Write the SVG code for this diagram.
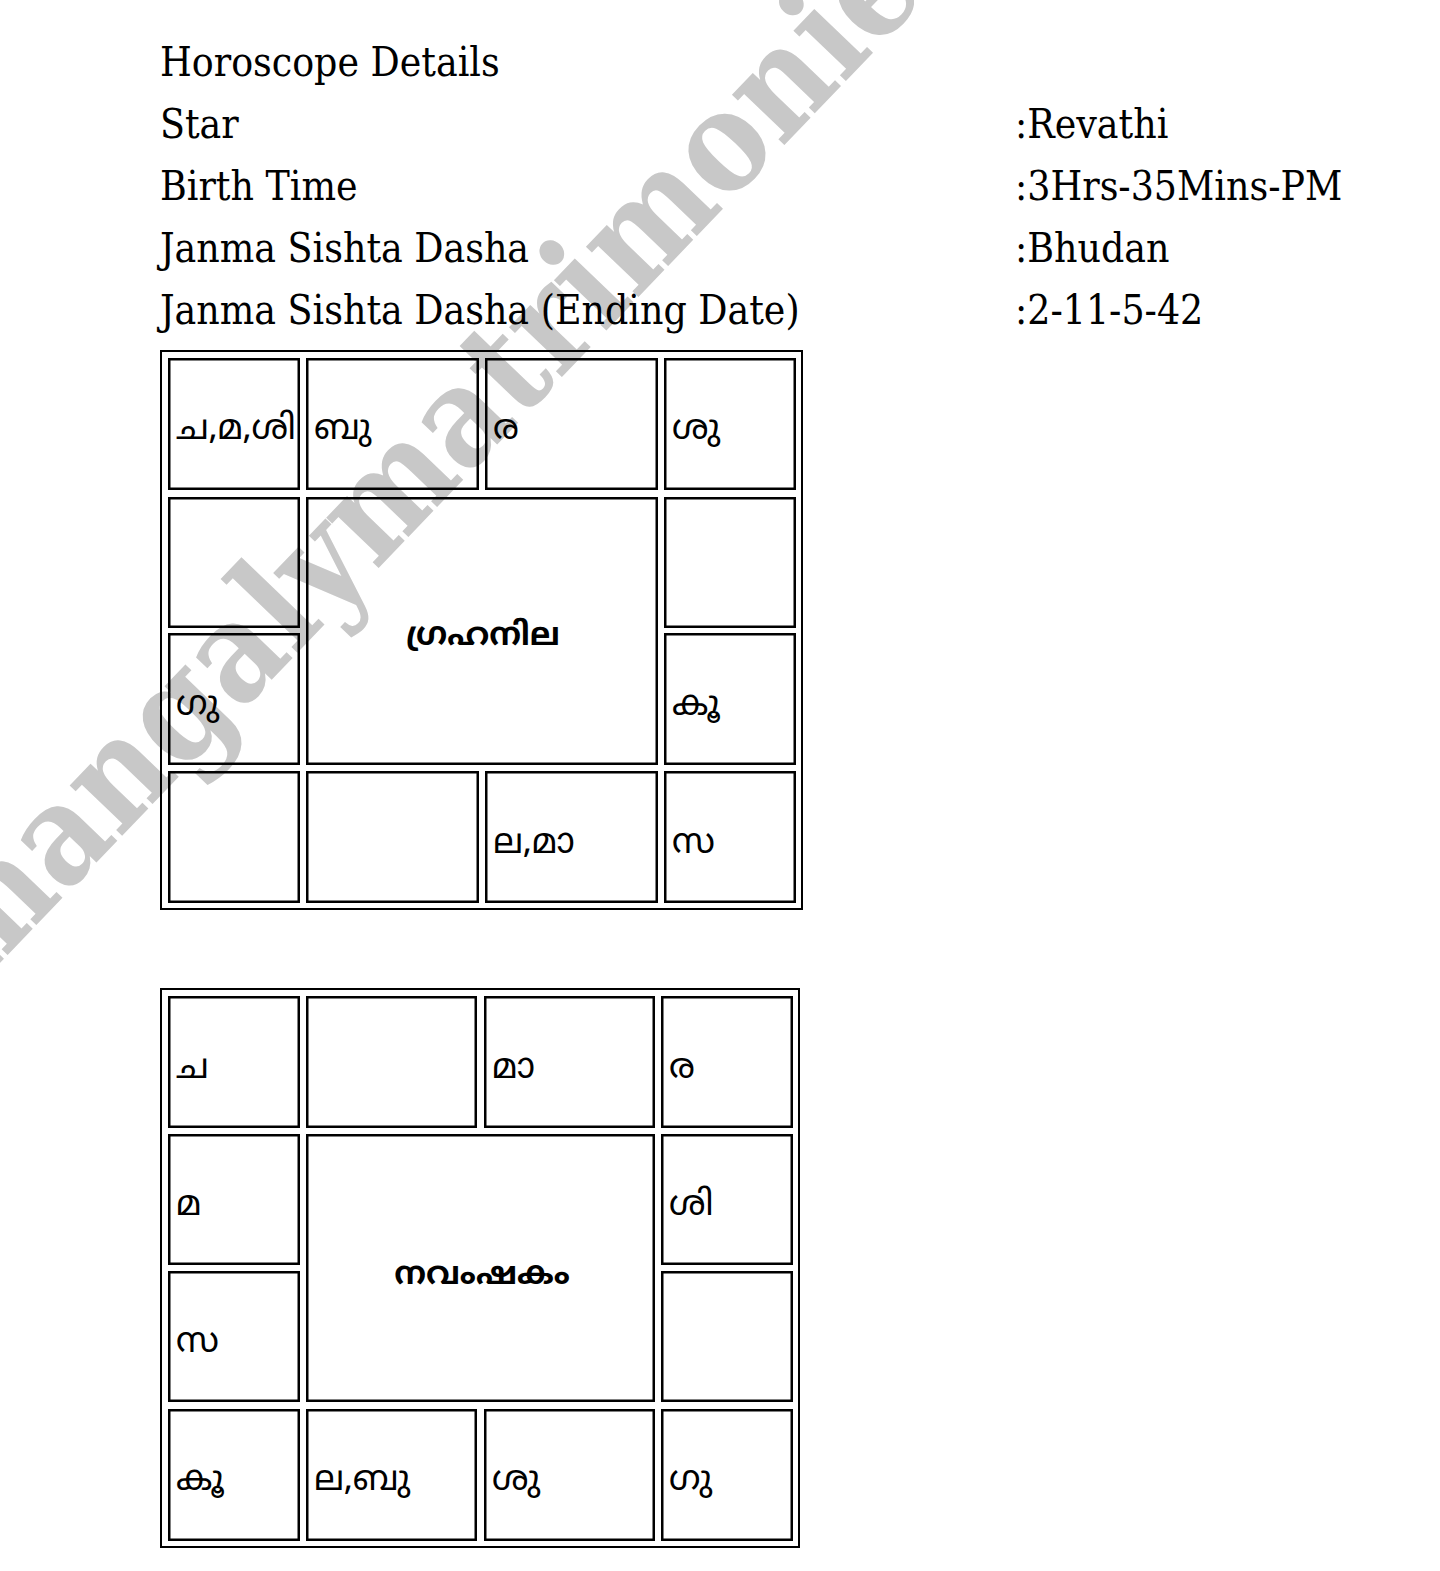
<svg xmlns="http://www.w3.org/2000/svg" width="1440" height="1571" viewBox="0 0 1440 1571">
<style>
.hd{font-family:"DejaVu Serif","Liberation Serif",serif;font-stretch:condensed;font-size:40.5px;fill:#000}
.ml{font-family:"Noto Sans Malayalam","Noto Sans","DejaVu Sans",sans-serif;font-size:35px;fill:#000}
.mlb{font-family:"Noto Sans Malayalam","Noto Sans","DejaVu Sans",sans-serif;font-size:32px;font-weight:bold;fill:#000;text-anchor:middle}
.wm{font-family:"DejaVu Serif","Liberation Serif",serif;font-weight:bold;font-size:140px;fill:#c8c8c8}
.ob{fill:none;stroke:#000;stroke-width:2}
.cb{fill:none;stroke:#000;stroke-width:2.5}
</style>
<rect width="1440" height="1571" fill="#fff"/>
<g id="watermark">
<text class="wm" transform="translate(-25,989) rotate(-46.2)" textLength="1378" lengthAdjust="spacingAndGlyphs">mangalymatrimonie</text>
</g>
<g id="header">
<text class="hd" x="160" y="76">Horoscope Details</text>
<text class="hd" x="160" y="138">Star</text>
<text class="hd" x="160" y="200">Birth Time</text>
<text class="hd" x="160" y="262">Janma Sishta Dasha</text>
<text class="hd" x="160" y="324">Janma Sishta Dasha (Ending Date)</text>
<text class="hd" x="1015" y="138">:Revathi</text>
<text class="hd" x="1015" y="200">:3Hrs-35Mins-PM</text>
<text class="hd" x="1015" y="262">:Bhudan</text>
<text class="hd" x="1015" y="324">:2-11-5-42</text>
</g>
<g id="rasi-chart">
<rect class="ob" x="161" y="351" width="641" height="558"/>
<g id="r-c11"><rect class="cb" x="169.25" y="359.25" width="129.5" height="129.5"/><text class="ml" x="176" y="439">ച,മ,ശി</text></g>
<g id="r-c12"><rect class="cb" x="307.25" y="359.25" width="170.5" height="129.5"/><text class="ml" x="314" y="439">ബു</text></g>
<g id="r-c13"><rect class="cb" x="486.25" y="359.25" width="170.5" height="129.5"/><text class="ml" x="493" y="439">ര</text></g>
<g id="r-c14"><rect class="cb" x="665.25" y="359.25" width="129.5" height="129.5"/><text class="ml" x="672" y="439">ശു</text></g>
<g id="r-c21"><rect class="cb" x="169.25" y="498.25" width="129.5" height="128.5"/></g>
<g id="r-center"><rect class="cb" x="307.25" y="498.25" width="349.5" height="265.5"/><text class="mlb" x="483" y="645">ഗ്രഹനില</text></g>
<g id="r-c24"><rect class="cb" x="665.25" y="498.25" width="129.5" height="128.5"/></g>
<g id="r-c31"><rect class="cb" x="169.25" y="634.25" width="129.5" height="129.5"/><text class="ml" x="176" y="715">ഗു</text></g>
<g id="r-c34"><rect class="cb" x="665.25" y="634.25" width="129.5" height="129.5"/><text class="ml" x="672" y="715">കൂ</text></g>
<g id="r-c41"><rect class="cb" x="169.25" y="772.25" width="129.5" height="129.5"/></g>
<g id="r-c42"><rect class="cb" x="307.25" y="772.25" width="170.5" height="129.5"/></g>
<g id="r-c43"><rect class="cb" x="486.25" y="772.25" width="170.5" height="129.5"/><text class="ml" x="493" y="853">ല,മാ</text></g>
<g id="r-c44"><rect class="cb" x="665.25" y="772.25" width="129.5" height="129.5"/><text class="ml" x="672" y="853">സ</text></g>
</g>
<g id="navamsa-chart">
<rect class="ob" x="161" y="989" width="638" height="558"/>
<g id="n-c11"><rect class="cb" x="169.25" y="997.25" width="129.5" height="129.5"/><text class="ml" x="176" y="1078">ച</text></g>
<g id="n-c12"><rect class="cb" x="307.25" y="997.25" width="168.5" height="129.5"/></g>
<g id="n-c13"><rect class="cb" x="485.25" y="997.25" width="168.5" height="129.5"/><text class="ml" x="492" y="1078">മാ</text></g>
<g id="n-c14"><rect class="cb" x="662.25" y="997.25" width="129.5" height="129.5"/><text class="ml" x="669" y="1078">ര</text></g>
<g id="n-c21"><rect class="cb" x="169.25" y="1135.25" width="129.5" height="128.5"/><text class="ml" x="176" y="1215">മ</text></g>
<g id="n-center"><rect class="cb" x="307.25" y="1135.25" width="346.5" height="265.5"/><text class="mlb" x="482" y="1284">നവംഷകം</text></g>
<g id="n-c24"><rect class="cb" x="662.25" y="1135.25" width="129.5" height="128.5"/><text class="ml" x="669" y="1215">ശി</text></g>
<g id="n-c31"><rect class="cb" x="169.25" y="1272.25" width="129.5" height="128.5"/><text class="ml" x="176" y="1352">സ</text></g>
<g id="n-c34"><rect class="cb" x="662.25" y="1272.25" width="129.5" height="128.5"/></g>
<g id="n-c41"><rect class="cb" x="169.25" y="1410.25" width="129.5" height="129.5"/><text class="ml" x="176" y="1490">കൂ</text></g>
<g id="n-c42"><rect class="cb" x="307.25" y="1410.25" width="168.5" height="129.5"/><text class="ml" x="314" y="1490">ല,ബു</text></g>
<g id="n-c43"><rect class="cb" x="485.25" y="1410.25" width="168.5" height="129.5"/><text class="ml" x="492" y="1490">ശു</text></g>
<g id="n-c44"><rect class="cb" x="662.25" y="1410.25" width="129.5" height="129.5"/><text class="ml" x="669" y="1490">ഗു</text></g>
</g>
<g id="connectors"/>
</svg>
